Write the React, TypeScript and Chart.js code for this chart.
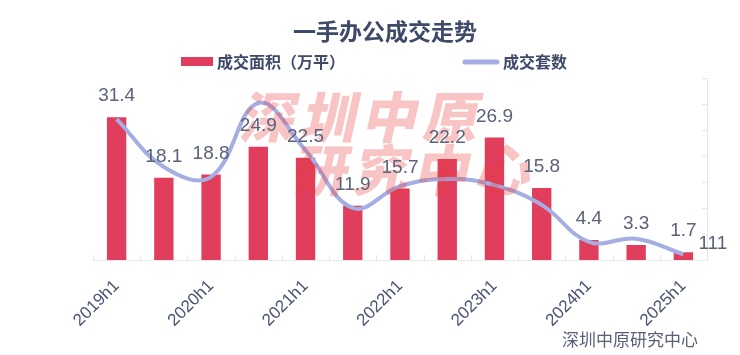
import React, { useEffect, useRef } from 'react';
import { Chart, registerables } from 'chart.js';

Chart.register(...registerables);

const titleText = '一手办公成交走势';
const barSeriesName = '成交面积（万平）';
const lineSeriesName = '成交套数';
const sourceText = '深圳中原研究中心';
const watermarkLines = ['深圳中原', '研究中心'];

const categories = [
  '2019h1', '2019h2', '2020h1', '2020h2', '2021h1', '2021h2', '2022h1',
  '2022h2', '2023h1', '2023h2', '2024h1', '2024h2', '2025h1',
];
const shownTickLabels = ['2019h1', '2020h1', '2021h1', '2022h1', '2023h1', '2024h1', '2025h1'];
const areaValues = [31.4, 18.1, 18.8, 24.9, 22.5, 11.9, 15.7, 22.2, 26.9, 15.8, 4.4, 3.3, 1.7];
const unitValues = [2710, 1790, 1600, 3020, 2110, 1000, 1420, 1560, 1440, 1060, 350, 410, 111];
const labelledLinePoints = [12];

const BAR_COLOR = '#e03e5c';
const LINE_COLOR = '#a4aee3';
const TEXT_DARK = '#3f4a68';
const LABEL_COLOR = '#5b6279';
const AXIS_COLOR = '#e6e7ec';
const CJK = '"Noto Sans CJK SC", "Noto Sans", sans-serif';
const LATIN = '"Liberation Sans", Arial, sans-serif';

const decorPlugin = {
  id: 'decor',
  beforeDatasetsDraw(chart: any) {
    const ctx = chart.ctx;
    const area = chart.chartArea;
    const x = chart.scales.x;
    const y1 = chart.scales.y1;
    ctx.save();
    ctx.strokeStyle = AXIS_COLOR;
    ctx.lineWidth = 1;
    ctx.beginPath();
    ctx.moveTo(Math.round(area.right) + 0.5, area.top);
    ctx.lineTo(Math.round(area.right) + 0.5, area.bottom);
    ctx.stroke();
    for (let v = 0; v <= 3500; v += 500) {
      const py = Math.round(y1.getPixelForValue(v)) + 0.5;
      ctx.beginPath();
      ctx.moveTo(area.right - 5, py);
      ctx.lineTo(area.right, py);
      ctx.stroke();
    }
    const half = (x.getPixelForValue(1) - x.getPixelForValue(0)) / 2;
    for (let i = 0; i <= categories.length; i++) {
      const px = Math.round(x.getPixelForValue(i) - half) + 0.5;
      ctx.beginPath();
      ctx.moveTo(px, area.bottom - 5);
      ctx.lineTo(px, area.bottom);
      ctx.stroke();
    }
    ctx.restore();
  },
  afterDatasetsDraw(chart: any) {
    const ctx = chart.ctx;
    ctx.save();
    ctx.fillStyle = 'rgba(236, 58, 58, 0.3)';
    ctx.font = `900 55px ${CJK}`;
    ctx.textBaseline = 'middle';
    ctx.textAlign = 'left';
    const starts = [[243, 117], [295, 170]];
    watermarkLines.forEach((line, li) => {
      const [sx, sy] = starts[li];
      Array.from(line).forEach((ch, ci) => {
        ctx.save();
        ctx.translate(sx + ci * 61, sy);
        ctx.transform(1, 0, -0.22, 1, 0, 0);
        ctx.fillText(ch, 0, 0);
        ctx.restore();
      });
    });
    ctx.restore();
  },
  afterDraw(chart: any) {
    const ctx = chart.ctx;
    ctx.save();
    ctx.fillStyle = TEXT_DARK;
    ctx.font = `bold 23px ${CJK}`;
    ctx.textAlign = 'center';
    ctx.textBaseline = 'middle';
    ctx.fillText(titleText, 385, 31);
    ctx.fillStyle = BAR_COLOR;
    ctx.fillRect(181, 57, 32, 9);
    ctx.fillStyle = TEXT_DARK;
    ctx.font = `bold 16px ${CJK}`;
    ctx.textAlign = 'left';
    ctx.fillText(barSeriesName, 217, 62);
    ctx.strokeStyle = LINE_COLOR;
    ctx.lineWidth = 5;
    ctx.lineCap = 'round';
    ctx.beginPath();
    ctx.moveTo(465, 62);
    ctx.lineTo(497, 62);
    ctx.stroke();
    ctx.fillText(lineSeriesName, 503, 62);
    ctx.fillStyle = '#5a6078';
    ctx.font = `17px ${CJK}`;
    ctx.textAlign = 'right';
    ctx.fillText(sourceText, 698, 340);
    ctx.fillStyle = LABEL_COLOR;
    ctx.font = `19px ${LATIN}`;
    ctx.textAlign = 'center';
    const barMeta = chart.getDatasetMeta(0);
    barMeta.data.forEach((el: any, i: number) => {
      ctx.fillText(String(areaValues[i]), el.x, el.y - 21);
    });
    const lineMeta = chart.getDatasetMeta(1);
    ctx.textAlign = 'left';
    labelledLinePoints.forEach((i) => {
      const el = lineMeta.data[i];
      ctx.fillText(String(unitValues[i]), el.x + 15, el.y - 10);
    });
    ctx.restore();
  },
};

export default function App() {
  const ref = useRef<HTMLCanvasElement>(null);
  useEffect(() => {
    document.body.style.margin = '0';
    document.body.style.overflow = 'hidden';
    const chart = new Chart(ref.current!, {
      data: {
        labels: categories,
        datasets: [
          {
            type: 'bar',
            label: barSeriesName,
            data: areaValues,
            backgroundColor: BAR_COLOR,
            yAxisID: 'y',
            categoryPercentage: 1,
            barPercentage: 0.41,
            order: 2,
          },
          {
            type: 'line',
            label: lineSeriesName,
            data: unitValues,
            borderColor: LINE_COLOR,
            borderWidth: 4,
            tension: 0.4,
            pointRadius: 0,
            yAxisID: 'y1',
            order: 1,
          },
        ] as any,
      },
      options: {
        responsive: false,
        animation: false,
        devicePixelRatio: 1,
        layout: { padding: { left: 93, right: 33, top: 78, bottom: 0 } },
        plugins: { legend: { display: false }, title: { display: false }, tooltip: { enabled: false } },
        scales: {
          x: {
            grid: { display: false },
            border: { display: true, color: AXIS_COLOR, width: 1 },
            ticks: {
              autoSkip: false,
              minRotation: 45,
              maxRotation: 45,
              padding: 8,
              color: '#4a5473',
              font: { family: LATIN, size: 17 },
              callback: (_v: any, idx: number) =>
                shownTickLabels.includes(categories[idx]) ? categories[idx] : '',
            },
            afterFit: (axis: any) => {
              axis.height = 95;
            },
          },
          y: { display: false, min: 0, max: 40 },
          y1: { display: false, position: 'right', min: 0, max: 3500 },
        },
      } as any,
      plugins: [decorPlugin],
    });
    return () => chart.destroy();
  }, []);
  return (
    <div style={{ width: 740, height: 355 }}>
      <canvas ref={ref} width={740} height={355} />
    </div>
  );
}
